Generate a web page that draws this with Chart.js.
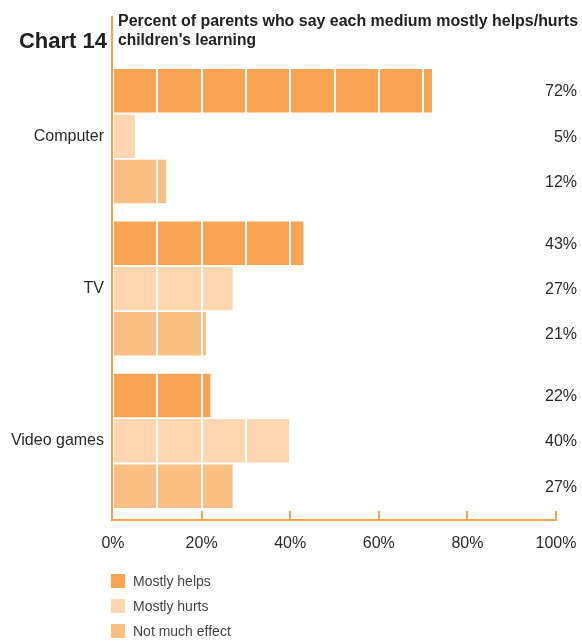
<!DOCTYPE html>
<html>
<head>
<meta charset="utf-8">
<script src="https://cdn.jsdelivr.net/npm/chart.js@4.4.1/dist/chart.umd.min.js"></script>
<style>
  html, body { margin: 0; padding: 0; background: #fff; }
  #wrap { width: 582px; height: 643px; position: relative; }
</style>
</head>
<body>
<div id="wrap"><canvas id="chart" width="582" height="643"></canvas></div>
<script>
// Survey categories and answer shares (percent of parents)
const categories = ['Computer', 'TV', 'Video games'];
const mostlyHelps = [72, 43, 22];
const mostlyHurts = [5, 27, 40];
const notMuchEffect = [12, 21, 27];
const seriesNames = ['Mostly helps', 'Mostly hurts', 'Not much effect'];
const xTicks = [0, 20, 40, 60, 80, 100];

const ORANGE = '#f7a24f';
const colors = ['#f8a452', '#fed6b0', '#fbbf84'];
const TEXT = '#2b2b2b';
const FONT = '"Liberation Sans", Arial, Helvetica, sans-serif';

// Title, axis frame, white 10% guides over the bars, value labels and legend
const decorations = {
  id: 'decorations',
  afterDatasetsDraw(chart) {
    const { ctx, chartArea, scales } = chart;
    const x = scales.x;
    const axisY = chartArea.bottom + 3;
    ctx.save();

    // white guide lines every 10%
    ctx.strokeStyle = '#ffffff';
    ctx.lineWidth = 2;
    for (let v = 0; v <= 100; v += 10) {
      const px = Math.round(x.getPixelForValue(v));
      ctx.beginPath();
      ctx.moveTo(px, chartArea.top);
      ctx.lineTo(px, chartArea.bottom);
      ctx.stroke();
    }

    // axis frame
    const x0 = Math.round(x.getPixelForValue(0)) - 1;
    ctx.strokeStyle = ORANGE;
    ctx.lineWidth = 2;
    ctx.beginPath();
    ctx.moveTo(x0, 16);
    ctx.lineTo(x0, axisY + 1);
    ctx.stroke();
    ctx.beginPath();
    ctx.moveTo(x0 - 1, axisY);
    ctx.lineTo(Math.round(x.getPixelForValue(100)) + 1, axisY);
    ctx.stroke();
    xTicks.slice(1).forEach(v => {
      const px = Math.round(x.getPixelForValue(v));
      ctx.beginPath();
      ctx.moveTo(px, axisY - 9);
      ctx.lineTo(px, axisY);
      ctx.stroke();
    });

    // value labels at the right edge
    ctx.fillStyle = TEXT;
    ctx.font = '16px ' + FONT;
    ctx.textAlign = 'right';
    ctx.textBaseline = 'middle';
    chart.data.datasets.forEach((ds, di) => {
      chart.getDatasetMeta(di).data.forEach((bar, i) => {
        ctx.fillText(ds.data[i] + '%', 577, bar.y + 1);
      });
    });

    // heading
    ctx.textBaseline = 'alphabetic';
    ctx.textAlign = 'right';
    ctx.font = 'bold 22px ' + FONT;
    ctx.fillStyle = '#222';
    ctx.fillText('Chart 14', 107, 48, 90);
    ctx.textAlign = 'left';
    ctx.font = 'bold 16px ' + FONT;
    ctx.fillText('Percent of parents who say each medium mostly helps/hurts', 118, 26, 460);
    ctx.fillText("children's learning", 118, 45, 460 * 0.3);

    // legend
    ctx.font = '14px ' + FONT;
    ctx.textBaseline = 'middle';
    chart.data.datasets.forEach((ds, di) => {
      const cy = 581 + di * 25;
      ctx.fillStyle = ds.backgroundColor;
      ctx.fillRect(111, cy - 7, 14, 14);
      ctx.fillStyle = '#444';
      ctx.fillText(ds.label, 133, cy + 1);
    });
    ctx.restore();
  }
};

new Chart(document.getElementById('chart'), {
  type: 'bar',
  data: {
    labels: categories,
    datasets: [mostlyHelps, mostlyHurts, notMuchEffect].map((d, i) => ({
      label: seriesNames[i],
      data: d,
      backgroundColor: colors[i],
      borderWidth: 0,
      categoryPercentage: 0.893,
      barPercentage: 0.96
    }))
  },
  options: {
    indexAxis: 'y',
    responsive: false,
    animation: false,
    layout: { padding: { top: 60, right: 26, bottom: 86, left: 0 } },
    plugins: { legend: { display: false }, tooltip: { enabled: false }, title: { display: false } },
    scales: {
      x: {
        min: 0, max: 100,
        afterBuildTicks(scale) { scale.ticks = xTicks.map(v => ({ value: v })); },
        afterFit(scale) {
          scale.height = 40;
          scale.paddingLeft = 0;
          scale.paddingRight = 0;
        },
        grid: { display: false, drawTicks: false },
        border: { display: false },
        ticks: {
          color: TEXT,
          font: { family: FONT, size: 16 },
          padding: 17,
          maxRotation: 0,
          callback: v => v + '%'
        }
      },
      y: {
        afterFit(scale) { scale.width = 113; },
        grid: { display: false, drawTicks: false },
        border: { display: false },
        ticks: { color: TEXT, font: { family: FONT, size: 16 }, padding: 9 }
      }
    }
  },
  plugins: [decorations]
});
</script>
</body>
</html>
